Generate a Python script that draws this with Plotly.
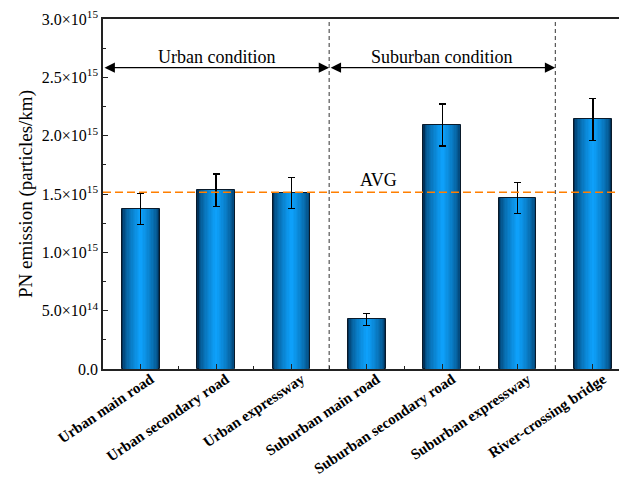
import plotly.graph_objects as go
import numpy as np

# ---- data ----
categories = ["Urban main road", "Urban secondary road", "Urban expressway",
              "Suburban main road", "Suburban secondary road", "Suburban expressway",
              "River-crossing bridge"]
values = [1.371e15, 1.532e15, 1.509e15, 0.426e15, 2.091e15, 1.468e15, 2.140e15]
errors = [0.133e15, 0.140e15, 0.131e15, 0.050e15, 0.180e15, 0.132e15, 0.180e15]
avg_value = 1.514e15
groups = ["Urban condition", "Suburban condition"]
group_sizes = [3, 3]
ytick_vals = [0, 5e14, 1e15, 1.5e15, 2e15, 2.5e15, 3e15]
ytick_text = ["0.0", "5.0×10<sup>14</sup>", "1.0×10<sup>15</sup>", "1.5×10<sup>15</sup>",
              "2.0×10<sup>15</sup>", "2.5×10<sup>15</sup>", "3.0×10<sup>15</sup>"]

FONT = "Liberation Serif"
x = list(range(len(categories)))

fig = go.Figure()

# gradient-looking bars via overlaid narrower bars
W = 0.5
N = 14
dark = np.array([0, 50, 90])
bright = np.array([14, 160, 250])
for i in range(N):
    t = (i / (N - 1)) ** 0.55
    c = dark + (bright - dark) * t
    col = "rgb(%d,%d,%d)" % tuple(c.astype(int))
    w = W * (1 - i / N)
    last = (i == N - 1)
    fig.add_trace(go.Bar(
        x=x, y=values, width=[w] * len(x),
        marker=dict(color=col, line=dict(color="#0a1a2a" if i == 0 else col, width=1 if i == 0 else 0)),
        error_y=dict(type="data", array=errors, visible=last, color="black", thickness=1.2, width=3.5),
        showlegend=False, hoverinfo="skip",
    ))

# group boundaries
bounds = np.cumsum(group_sizes) - 0.5
starts = np.concatenate([[-0.5], bounds[:-1]])
shapes = []
for b in bounds:
    shapes.append(dict(type="line", xref="x", yref="y", x0=b, x1=b, y0=0, y1=3e15,
                       line=dict(color="#333", width=1, dash="4px,3px"), layer="above"))
# average line
shapes.append(dict(type="line", xref="paper", yref="y", x0=0, x1=1, y0=avg_value, y1=avg_value,
                   line=dict(color="#ff7f00", width=1.5, dash="8px,4px"), layer="above"))

annotations = []
for g, s, e in zip(groups, starts, bounds):
    annotations.append(dict(x=e, y=2.583e15, ax=s, ay=2.583e15, xref="x", yref="y",
                            axref="x", ayref="y", text="", showarrow=True,
                            arrowside="end+start", arrowhead=2, arrowsize=1.6,
                            arrowwidth=1.3, arrowcolor="black"))
    annotations.append(dict(x=(s + e) / 2, y=2.677e15, xref="x", yref="y", text=g,
                            showarrow=False, font=dict(family=FONT, size=18, color="black")))
annotations.append(dict(x=3.15, y=1.62e15, xref="x", yref="y", text="AVG", showarrow=False,
                        font=dict(family=FONT, size=18, color="black")))

fig.update_layout(
    width=619, height=480,
    margin=dict(l=103, r=0, t=19, b=111),
    plot_bgcolor="white", paper_bgcolor="white",
    barmode="overlay", bargap=0,
    shapes=shapes, annotations=annotations,
    font=dict(family=FONT, color="black"),
)
fig.update_xaxes(
    range=[-0.5, 6.345], tickmode="array", tickvals=x, ticktext=categories,
    tickangle=-34, tickfont=dict(family=FONT, size=15, color="black", weight="bold"),
    ticklabelshift=10, ticklabelstandoff=-6,
    showline=True, linecolor="#222", linewidth=1.5, mirror=True,
    ticks="inside", ticklen=5, tickcolor="#222", tickwidth=1,
    minor=dict(tickvals=list(np.arange(-0.5, 6.6, 1.0)[1:]), ticks="inside", ticklen=3,
               tickcolor="#222"),
    showgrid=False, zeroline=False, automargin=False,
)
fig.update_yaxes(
    range=[0, 3e15], tickmode="array", tickvals=ytick_vals, ticktext=ytick_text,
    tickfont=dict(family=FONT, size=16, color="black"),
    showline=True, linecolor="#222", linewidth=1.5, mirror=False,
    ticks="inside", ticklen=5, tickcolor="#222", tickwidth=1,
    minor=dict(dtick=2.5e14, ticks="inside", ticklen=3, tickcolor="#222"),
    title=dict(text="PN emission (particles/km)", font=dict(family=FONT, size=19, color="black"),
               standoff=4),
    showgrid=False, zeroline=False, automargin=False,
)

fig.write_html("out.html")
